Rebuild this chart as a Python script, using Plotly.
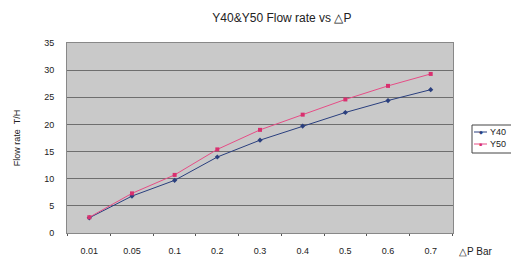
import plotly.graph_objects as go

categories = ["0.01", "0.05", "0.1", "0.2", "0.3", "0.4", "0.5", "0.6", "0.7"]
y40 = [2.8, 6.8, 9.7, 14.0, 17.1, 19.7, 22.2, 24.4, 26.4]
y50 = [2.9, 7.3, 10.7, 15.4, 19.0, 21.8, 24.6, 27.1, 29.3]
y_ticks = [0, 5, 10, 15, 20, 25, 30, 35]
series_names = ["Y40", "Y50"]
line_colors = ["#2a3f7e", "#e64d86"]
marker_colors = ["#2a3f7e", "#d9306f"]
marker_symbols = ["diamond", "square"]

FONT = "Liberation Sans, Arial, sans-serif"

# page body has an 8px default margin, so the figure is 8px smaller
W, H = 511, 253
ML, MR, MT, MB = 59, 66, 35, 28
PW, PH = W - ML - MR, H - MT - MB


def px(x):
    return (x - ML) / PW


def py(y):
    return (H - MB - y) / PH


fig = go.Figure()
for name, vals, lc, mc, ms in zip(series_names, [y40, y50], line_colors,
                                  marker_colors, marker_symbols):
    fig.add_trace(go.Scatter(x=categories, y=vals, name=name, mode="lines+markers",
                             line=dict(color=lc, width=1),
                             marker=dict(symbol=ms, size=4, color=mc),
                             showlegend=False))

fig.update_layout(
    width=W, height=H,
    margin=dict(l=ML, r=MR, t=MT, b=MB, autoexpand=False),
    paper_bgcolor="white",
    plot_bgcolor="#c9c9c9",
    font=dict(family=FONT, size=9, color="#222"),
    title=dict(text="Y40&Y50 Flow rate vs \u25b3P", x=0.536, xanchor="center",
               y=0.962, yanchor="middle", font=dict(size=12, color="#222")),
    showlegend=False,
    xaxis=dict(type="category", tickson="boundaries", ticks="outside", ticklen=2,
               tickcolor="#555", showgrid=False, showline=True, linecolor="#888",
               linewidth=1, mirror=True, tickfont=dict(size=9),
               ticklabelstandoff=9, automargin=False),
    yaxis=dict(range=[0, 35], tickvals=y_ticks, showgrid=True, gridcolor="#6e6e6e",
               gridwidth=1, zeroline=False, showline=True, linecolor="#888",
               mirror=True, ticks="", ticklabelstandoff=10, tickfont=dict(size=9),
               automargin=False,
               title=dict(text="Flow rate  T/H", font=dict(size=9), standoff=22)),
)

fig.add_annotation(text="\u25b3P Bar", xref="paper", yref="paper", x=1.01, y=-0.095,
                   xanchor="left", yanchor="middle", showarrow=False,
                   font=dict(size=10, color="#222"))

# legend box (drawn manually so it fits the narrow right edge)
fig.add_shape(type="rect", xref="paper", yref="paper",
              x0=px(464), x1=px(510), y0=py(145), y1=py(117),
              line=dict(color="#444", width=1), fillcolor="white", layer="above")
for i, (name, lc, mc) in enumerate(zip(series_names, line_colors, marker_colors)):
    yy = 124 + 12 * i
    fig.add_shape(type="line", xref="paper", yref="paper",
                  x0=px(466), x1=px(479), y0=py(yy), y1=py(yy),
                  line=dict(color=lc, width=1), layer="above")
    fig.add_annotation(text="\u25c6" if i == 0 else "\u25a0", xref="paper", yref="paper",
                       x=px(472.5), y=py(yy), showarrow=False, xanchor="center",
                       yanchor="middle", font=dict(size=5, color=mc))
    fig.add_annotation(text=name, xref="paper", yref="paper", x=px(480), y=py(yy),
                       showarrow=False, xanchor="left", yanchor="middle",
                       font=dict(size=9, color="#222"))

fig.write_html("out.html")
